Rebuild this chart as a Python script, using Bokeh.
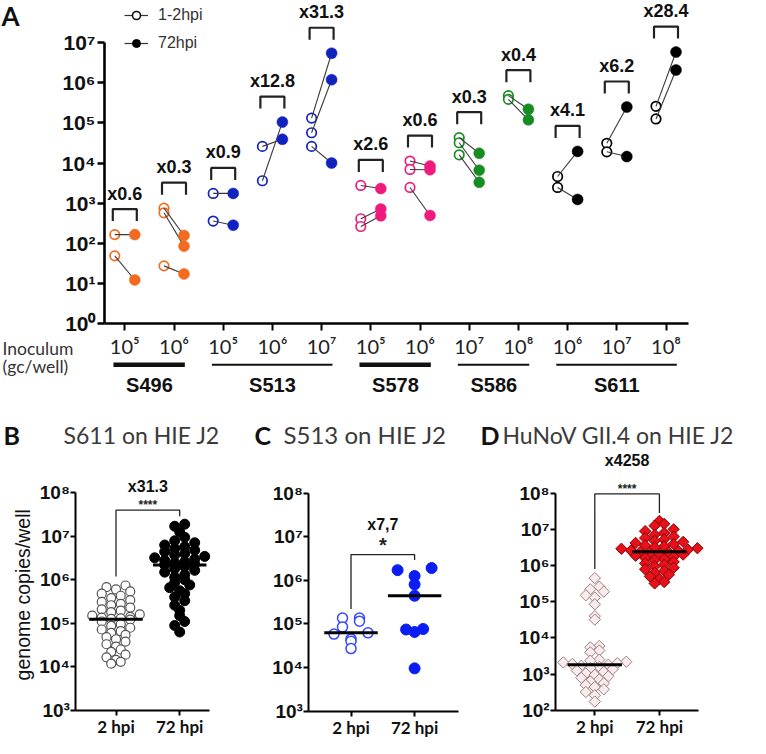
import numpy as np
from bokeh.plotting import figure
from bokeh.models import (Range1d, FixedTicker, CustomJSTickFormatter, Label, LabelSet,
                          ColumnDataSource, Legend, LegendItem)
from bokeh.layouts import column, row
from bokeh.embed import file_html
from bokeh.resources import INLINE
from bokeh.core.properties import value

# ---------------- Panel A data ----------------
group_strain = ["S496", "S496", "S513", "S513", "S513", "S578", "S578",
                "S586", "S586", "S611", "S611", "S611"]
inoculum_exp = [5, 6, 5, 6, 7, 5, 6, 7, 8, 6, 7, 8]
fold_labels = ["x0.6", "x0.3", "x0.9", "x12.8", "x31.3", "x2.6", "x0.6",
               "x0.3", "x0.4", "x4.1", "x6.2", "x28.4"]
early_hpi = [[163, 48], [745, 570, 27], [1740, 355], [26000, 3600],
             [132000, 57000, 26000], [2750, 405, 260], [11200, 6900, 2450],
             [43000, 32000, 16000], [480000, 390000], [4600, 2450],
             [31000, 19000], [260000, 126000]]
late_hpi = [[163, 12], [155, 84, 17], [1740, 280], [39000, 105000],
            [5.5e6, 1.2e6, 10000], [2300, 710, 480], [8400, 6800, 490],
            [17500, 6600, 3300], [220000, 120000], [19500, 1230],
            [250000, 14500], [5.9e6, 2.1e6]]
strain_order = ["S496", "S513", "S578", "S586", "S611"]
legend_labels = ["1-2hpi", "72hpi"]
inoculum_title = ["Inoculum", "(gc/well)"]

# ---------------- Panels B-D data ----------------
category_labels = ["2 hpi", "72 hpi"]
B_2hpi = [7.4e5, 6.8e5, 6.0e5, 5.4e5, 4.8e5, 4.3e5, 3.8e5, 3.4e5, 3.1e5, 2.8e5,
          2.6e5, 2.3e5, 2.1e5, 1.95e5, 1.8e5, 1.6e5, 1.5e5, 1.4e5, 1.35e5, 1.3e5,
          1.27e5, 1.22e5, 1.1e5, 9.5e4, 8.7e4, 7.9e4, 7.2e4, 6.6e4, 6.0e4, 5.4e4,
          4.8e4, 4.3e4, 3.8e4, 3.3e4, 2.9e4, 2.5e4, 2.2e4, 1.9e4, 1.65e4, 1.45e4,
          1.3e4, 1.18e4]
B_72hpi = [1.9e7, 1.7e7, 1.26e7, 9.5e6, 7.9e6, 7.1e6, 6.3e6, 5.75e6, 5.25e6, 4.8e6,
           4.4e6, 4.0e6, 3.7e6, 3.45e6, 3.2e6, 3.0e6, 2.8e6, 2.6e6, 2.45e6, 2.3e6,
           2.2e6, 2.0e6, 1.8e6, 1.65e6, 1.5e6, 1.3e6, 1.15e6, 1.0e6, 8.7e5, 7.6e5,
           6.6e5, 5.6e5, 4.8e5, 4.0e5, 3.3e5, 2.6e5, 2.0e5, 1.5e5, 1.1e5, 8.9e4, 6.3e4]
C_2hpi = [1.35e5, 1.35e5, 1.15e5, 8.5e4, 6.2e4, 5.8e4, 4.5e4, 4.0e4, 2.7e4]
C_72hpi = [1.9e6, 1.7e6, 1.25e6, 8e5, 4.4e5, 7.6e4, 7.4e4, 6.5e4, 9.5e3]
D_2hpi = [4.5e5, 2.6e5, 2.2e5, 1.9e5, 1.5e5, 1.3e5, 8.5e4, 4.0e4, 3.2e4, 6.0e3,
          5.5e3, 4.5e3, 4.0e3, 2.5e3, 2.35e3, 2.2e3, 2.1e3, 2.0e3, 1.9e3, 1.82e3,
          1.7e3, 1.58e3, 1.48e3, 1.38e3, 1.26e3, 1.15e3, 1.05e3, 9.5e2, 8.7e2, 7.9e2,
          7.1e2, 6.3e2, 5.6e2, 5.0e2, 4.4e2, 3.8e2, 3.2e2, 2.6e2, 1.74e2]
D_72hpi = [1.7e7, 1.41e7, 1.26e7, 1.0e7, 8.9e6, 7.9e6, 7.1e6, 6.3e6, 5.75e6, 5.25e6,
           4.8e6, 4.5e6, 4.2e6, 3.9e6, 3.6e6, 3.4e6, 3.16e6, 3.0e6, 2.9e6, 2.75e6,
           2.6e6, 2.5e6, 2.4e6, 2.3e6, 2.2e6, 2.1e6, 2.0e6, 1.86e6, 1.74e6, 1.62e6,
           1.5e6, 1.4e6, 1.26e6, 1.15e6, 1.05e6, 9.5e5, 8.7e5, 7.9e5, 7.1e5, 6.3e5,
           5.6e5, 5.0e5, 4.2e5, 3.5e5, 3.2e5]
panel_letters = ["A", "B", "C", "D"]
panel_titles = ["S611 on HIE J2", "S513 on HIE J2", "HuNoV GII.4 on HIE J2"]
panel_folds = ["x31.3", "x7,7", "x4258"]
panel_signif = ["****", "*", "****"]
y_label_B = "genome copies/well"

# ---------------- styles ----------------
strain_colors = {"S496": "#F36B21", "S513": "#1222BE", "S578": "#F01A7E",
                 "S586": "#168C22", "S611": "#000000"}
underline_width = [4.5, 2, 4.5, 2, 2]
SUPS = "\u2070\u00b9\u00b2\u00b3\u2074\u2075\u2076\u2077\u2078\u2079"


def pow10(e):
    return "10" + "".join(SUPS[int(c)] for c in str(e))


POW_JS = CustomJSTickFormatter(code=r"""
const s = ["\u2070","\u00b9","\u00b2","\u00b3","\u2074","\u2075","\u2076","\u2077","\u2078","\u2079"];
const e = Math.round(Math.log10(tick));
let out = "10";
for (const c of String(e)) { out += s[parseInt(c)]; }
return out;
""")


def swarm(ypx, binh, d):
    """GraphPad-like column scatter: points in the same row are spread symmetrically."""
    ypx = np.asarray(ypx)
    xs = np.zeros(len(ypx))
    bins = np.floor(ypx / binh).astype(int)
    for b in np.unique(bins):
        idx = np.where(bins == b)[0]
        idx = idx[np.argsort(ypx[idx])]
        n = len(idx)
        offs = (np.arange(n) - (n - 1) / 2.0) * d
        order = np.argsort(np.abs(offs), kind="stable")
        for j, k in enumerate(order):
            xs[idx[j]] = offs[k]
    return xs


def make_fig(W, H, xa, unit, ya, dec):
    p = figure(width=W, height=H, output_backend="svg", toolbar_location=None,
               x_range=Range1d(xa, xa + W / unit),
               y_range=Range1d(10 ** ya, 10 ** (ya + H / dec)), y_axis_type="log",
               min_border_left=0, min_border_right=0, min_border_top=0,
               min_border_bottom=0)
    p.xgrid.visible = False
    p.ygrid.visible = False
    p.outline_line_color = None
    p.background_fill_color = "white"
    p.border_fill_color = "white"

    def X(px):
        return xa + px / unit

    def Y(py):
        return 10 ** (ya + (H - py) / dec)
    return p, X, Y


def txt(p, x, y, t, font, size, bold=False, align="left", color="#111111"):
    p.add_layout(Label(x=x, y=y, text=t, text_font=font, text_font_size=size,
                       text_font_style="bold" if bold else "normal", text_align=align,
                       text_baseline="middle", text_color=color))


# =============== Panel A ===============
A_W, A_H = 750, 405
A_DEC, A_UNIT = 40.05, 49.2
A_AXIS_X, A_AXIS_Y, A_RIGHT = 104, 322.7, 688
A_XA = -124.3 / A_UNIT
A_YA = -(A_H - A_AXIS_Y) / A_DEC
pA, AX, AY = make_fig(A_W, A_H, A_XA, A_UNIT, A_YA, A_DEC)


def a_up(v, px):
    return v * 10 ** (px / A_DEC)


off = 10 / A_UNIT
ex, ey, ec, lx, ly, lc = [], [], [], [], [], []
s0x, s0y, s1x, s1y = [], [], [], []
for i, strain in enumerate(group_strain):
    col = strain_colors[strain]
    for a, b in zip(early_hpi[i], late_hpi[i]):
        ex.append(i - off); ey.append(a); ec.append(col)
        lx.append(i + off); ly.append(b); lc.append(col)
        s0x.append(i - off); s0y.append(a); s1x.append(i + off); s1y.append(b)

pA.scatter(x=ex, y=ey, marker="circle", size=9.5, fill_color="white",
           line_color=ec, line_width=1.7)
pA.segment(x0=s0x, y0=s0y, x1=s1x, y1=s1y, line_color="#3a3a3a", line_width=1.1)
pA.scatter(x=lx, y=ly, marker="circle", size=11, fill_color=lc, line_color=lc,
           line_width=0.5)

# brackets & fold labels
bxs, bys, fx, fy = [], [], [], []
hw = 12 / A_UNIT
for i in range(len(group_strain)):
    gmax = max(early_hpi[i] + late_hpi[i])
    leg = a_up(gmax, 13.5)
    top = a_up(gmax, 25.5)
    bxs.append([i - hw, i - hw, i + hw, i + hw])
    bys.append([leg, top, top, leg])
    fx.append(i)
    fy.append(a_up(gmax, 41))
pA.multi_line(xs=bxs, ys=bys, line_color="#222222", line_width=2.2)
pA.add_layout(LabelSet(x="x", y="y", text="t",
                       source=ColumnDataSource(dict(x=fx, y=fy, t=fold_labels)),
                       text_font=value("Liberation Sans"), text_font_style="bold",
                       text_font_size=value("18px"), text_align="center",
                       text_baseline="middle", text_color="#111111"))

# legend (one point each, outside the visible range, so the legend has glyphs to draw)
far_x, far_y = [A_XA - 50], [1e-9]
lg_line = pA.line(x=far_x * 2, y=far_y * 2, line_color="#333333", line_width=1.2)
lg_open = pA.scatter(x=far_x, y=far_y, marker="circle", size=10, fill_color="white",
                     line_color="#111111", line_width=1.6)
lg_fill = pA.scatter(x=far_x, y=far_y, marker="circle", size=11, fill_color="#000000",
                     line_color="#000000")
legend = Legend(items=[LegendItem(label=legend_labels[0], renderers=[lg_line, lg_open]),
                       LegendItem(label=legend_labels[1], renderers=[lg_line, lg_fill])],
                location=(124, A_H - 5 - 48), border_line_color=None,
                background_fill_alpha=0, padding=0, margin=0, spacing=8,
                glyph_width=24, glyph_height=20, label_height=20, label_standoff=10,
                label_text_font="Liberation Sans", label_text_font_size="16px",
                label_text_color="#333333")
pA.add_layout(legend)

# axes (fixed inside the frame so all the surrounding text shares one frame)
ya = pA.yaxis[0]
ya.fixed_location = AX(A_AXIS_X)
ya.ticker = FixedTicker(ticks=[10.0 ** e for e in range(0, 8)])
ya.formatter = POW_JS
ya.bounds = (1, 1e7)
ya.axis_line_width = 2.6
ya.major_tick_line_width = 2.4
ya.major_tick_out = 7
ya.major_tick_in = 0
ya.minor_tick_line_color = None
ya.major_label_text_font = "Liberation Sans"
ya.major_label_text_font_style = "bold"
ya.major_label_text_font_size = "21px"
ya.major_label_text_color = "#111111"
ya.major_label_standoff = 2

xa = pA.xaxis[0]
xa.fixed_location = 1
xa.bounds = (AX(A_AXIS_X), AX(A_RIGHT))
xa.ticker = FixedTicker(ticks=list(range(len(group_strain))))
xa.major_label_overrides = {i: pow10(e) for i, e in enumerate(inoculum_exp)}
xa.axis_line_width = 2.6
xa.major_tick_line_width = 2
xa.major_tick_out = 7
xa.major_tick_in = 0
xa.minor_tick_line_color = None
xa.major_label_text_font = "Lato"
xa.major_label_text_font_size = "20px"
xa.major_label_text_color = "#222222"
xa.major_label_standoff = 4

txt(pA, AX(1), AY(15), panel_letters[0], "Lato", "26px", bold=True)
for t, py in zip(inoculum_title, [347.5, 366]):
    txt(pA, AX(2), AY(py), t, "Lato", "17.5px", color="#333333")

ul_x, ul_y, ul_w = [], [], []
for k, strain in enumerate(strain_order):
    idx = [i for i, s in enumerate(group_strain) if s == strain]
    first, last = min(idx), max(idx)
    ul_x.append([first - 0.23, last + 0.22])
    ul_y.append([AY(364.2), AY(364.2)])
    ul_w.append(underline_width[k])
    txt(pA, (first + last) / 2, AY(384), strain, "Liberation Sans", "20px",
        bold=True, align="center")
pA.multi_line(xs=ul_x, ys=ul_y, line_width=ul_w, line_color="#111111")

# =============== Panels B-D ===============
ROW_H = 333


def make_panel(letter, title, fold, signif, v2, v72, cfg):
    W, unit, dec, ybot = cfg["W"], cfg["unit"], cfg["dec"], cfg["ybot"]
    xa0 = -cfg["cat0"] / unit
    ya0 = ybot - (ROW_H - cfg["axis_y"]) / dec
    p, X, Y = make_fig(W, ROW_H, xa0, unit, ya0, dec)

    def up(v, px):
        return v * 10 ** (px / dec)

    for cat, vals, st, binh, d in [(0, v2, cfg["s2"], cfg["binh"][0], cfg["d"][0]),
                                   (1, v72, cfg["s72"], cfg["binh"][1], cfg["d"][1])]:
        vals = np.array(vals, dtype=float)
        ypx = (np.log10(vals) - ybot) * dec
        dx = swarm(ypx, binh, d)
        p.scatter(x=cat + dx / unit, y=vals, **st)
        med = float(np.median(vals))
        p.segment(x0=[cat - 0.42], y0=[med], x1=[cat + 0.42], y1=[med],
                  line_color="#000000", line_width=3)

    m2, m72 = max(v2), max(v72)
    top = up(max(m2, m72), cfg["gap"])
    p.line(x=[0, 0, 1, 1], y=[up(m2, 9), top, top, up(m72, 8)],
           line_color="#222222", line_width=1.3)
    txt(p, 0.5, up(top, cfg["sig_off"]), signif, "Liberation Sans", cfg["sig_size"],
        bold=True, align="center", color="#222222")
    txt(p, 0.5, up(top, cfg["fold_off"]), fold, "Liberation Sans", "16px",
        bold=True, align="center")
    txt(p, X(cfg["lx"]), Y(29), letter, "Lato", "25px", bold=True)
    txt(p, X(cfg["tx"]), Y(29), title, "Lato", cfg["title_size"], color="#3a3a3a")

    ya = p.yaxis[0]
    ya.fixed_location = X(cfg["axis"])
    ya.ticker = FixedTicker(ticks=[10.0 ** e for e in range(int(ybot), 9)])
    ya.formatter = POW_JS
    ya.bounds = (10 ** ybot, 1e8)
    ya.axis_line_width = 2
    ya.major_tick_line_width = 2
    ya.major_tick_out = 5
    ya.major_tick_in = 0
    ya.minor_tick_line_color = None
    ya.major_label_text_font = "Liberation Sans"
    ya.major_label_text_font_style = "bold"
    ya.major_label_text_font_size = "19px"
    ya.major_label_text_color = "#111111"
    ya.major_label_standoff = 1

    xa = p.xaxis[0]
    xa.fixed_location = 10 ** ybot
    xa.bounds = (X(cfg["axis"]), X(cfg["right"]))
    xa.ticker = FixedTicker(ticks=[0, 1])
    xa.major_label_overrides = {0: category_labels[0], 1: category_labels[1]}
    xa.axis_line_width = 2
    xa.major_tick_line_width = 2
    xa.major_tick_out = 5
    xa.major_tick_in = 0
    xa.minor_tick_line_color = None
    xa.major_label_text_font = "Lato"
    xa.major_label_text_font_style = "bold"
    xa.major_label_text_font_size = "17px"
    xa.major_label_text_color = "#111111"
    xa.major_label_standoff = 1
    return p, X, Y


cfgB = dict(W=250, unit=63.7, dec=43.5, ybot=3, cat0=115.5, axis=75.4, right=208.5,
            axis_y=304.8, binh=(7, 7), d=(9.5, 10), gap=14, sig_off=5, fold_off=24,
            sig_size="12px", lx=3, tx=63, title_size="23px",
            s2=dict(marker="circle", size=9, fill_color="white", line_color="#555555",
                    line_width=1.2),
            s72=dict(marker="circle", size=10, fill_color="#000000", line_color="#000000"))
cfgC = dict(W=228, unit=63.6, dec=43.6, ybot=3, cat0=100.5, axis=58.4, right=208.2,
            axis_y=305.5, binh=(9, 9), d=(17, 17), gap=13.5, sig_off=10, fold_off=30,
            sig_size="20px", lx=4, tx=33, title_size="24px",
            s2=dict(marker="circle", size=10, fill_color="white", line_color="#3548FF",
                    line_width=1.5),
            s72=dict(marker="circle", size=11, fill_color="#0A1EF2", line_color="#0A1EF2"))
cfgD = dict(W=272, unit=64.6, dec=36.2, ybot=2, cat0=116.3, axis=77.1, right=220,
            axis_y=304.8, binh=(7, 6.5), d=(9, 9.5), gap=27, sig_off=5, fold_off=33,
            sig_size="12px", lx=2, tx=24, title_size="23px",
            s2=dict(marker="square", angle=np.pi / 4, size=8, fill_color="#F8ECEC",
                    line_color="#A07E7E", line_width=1),
            s72=dict(marker="square", angle=np.pi / 4, size=8, fill_color="#E8101A",
                     line_color="#8A0000", line_width=1))

pB, BX, BY = make_panel(panel_letters[1], panel_titles[0], panel_folds[0],
                        panel_signif[0], B_2hpi, B_72hpi, cfgB)
pC, CX, CY = make_panel(panel_letters[2], panel_titles[1], panel_folds[1],
                        panel_signif[1], C_2hpi, C_72hpi, cfgC)
pD, DX, DY = make_panel(panel_letters[3], panel_titles[2], panel_folds[2],
                        panel_signif[2], D_2hpi, D_72hpi, cfgD)

# y-axis title of panel B (rotated)
pB.add_layout(Label(x=BX(22.5), y=BY(607 * 0.979 - 405), text=y_label_B, angle=np.pi / 2,
                    text_font="Liberation Sans", text_font_size="19.5px",
                    text_align="center", text_baseline="middle", text_color="#111111"))

layout = column(pA, row(pB, pC, pD))
open("out.html", "w", encoding="utf-8").write(file_html(layout, INLINE))
